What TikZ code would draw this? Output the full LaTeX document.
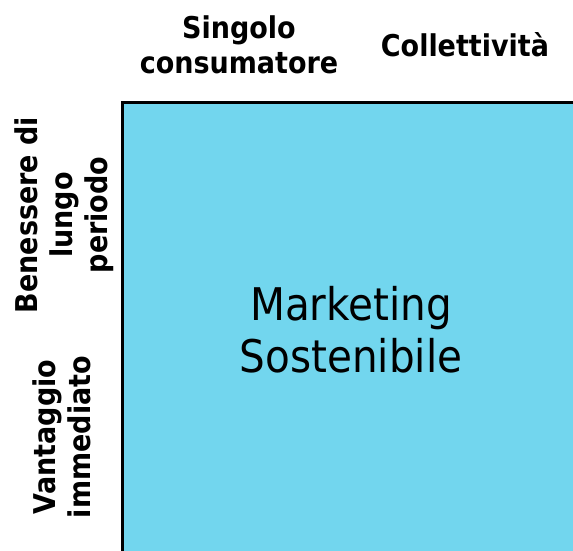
\documentclass[tikz,border=0pt]{standalone}
\usepackage{fontspec}
\setmainfont{DejaVu Sans Condensed}
\usepackage{tikz}

\definecolor{quadblue}{RGB}{114,214,238}

\begin{document}
\begin{tikzpicture}[x=1pt, y=-1pt, line join=miter,
    axislabel/.style={font=\bfseries\fontsize{30}{35}\selectfont, align=center, inner sep=0pt}]
                \useasboundingbox (0,0) rectangle (573,551);
                \coordinate (tl) at (122,102);
                \coordinate (br) at (573,551);
                \fill[quadblue] (tl) rectangle (br);
                \draw[line width=3pt] (tl |- br) -- (tl) -- (tl -| br);
                \node[font=\fontsize{45}{52}\selectfont, align=center] (market) at (351,330) {Marketing\\Sostenibile};
                \node[axislabel] (singolo) at (239,45) {Singolo\\consumatore};
                \node[axislabel] (collett) at (465,45) {Collettività};
                \node[axislabel, rotate=90] (benessere) at (64,215) {Benessere di\\lungo\\periodo};
                \node[axislabel, rotate=90] (vantaggio) at (62,437) {Vantaggio\\immediato};
            \end{tikzpicture}
\end{document}
